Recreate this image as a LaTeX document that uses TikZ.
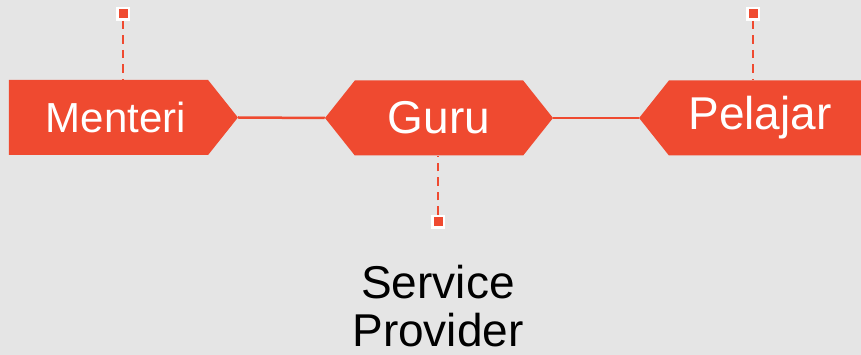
\documentclass[tikz,border=0pt]{standalone}
\usepackage{fontspec}
\setmainfont{Liberation Sans}
\usetikzlibrary{shapes.symbols}
\definecolor{flagred}{RGB}{239,74,48}
\definecolor{paper}{RGB}{229,229,229}
\begin{document}
\begin{tikzpicture}[
  x=1pt, y=1pt,
  flag/.style={shape=signal, fill=flagred, text=white, inner sep=0pt, minimum height=75pt, signal pointer angle=103, font=\fontsize{46}{48}\selectfont},
  pin/.style={draw=white, fill=flagred, line width=2.5pt, minimum size=11.5pt, inner sep=0pt},
  stem/.style={draw=flagred, line width=2.5pt, dash pattern=on 8.5pt off 6pt},
  link/.style={draw=flagred, line width=2.5pt}
]
\fill[paper] (0,0) rectangle (861,-355);
\useasboundingbox (0,0) rectangle (861,-355);

\node[flag, signal to=east, minimum width=229pt, font=\fontsize{42}{44}\selectfont] (menteri) at (108.5,-117.5) {\hspace*{15pt}Menteri};
\node[flag, signal to=west and east, minimum width=228pt] (guru) at (439,-118) {Guru};
\node[flag, signal to=west, minimum width=240pt] (pelajar) at (774,-118) {Pelajar\hspace*{28pt}};

\node[pin] (pinm) at (123,-14) {};
\node[pin] (ping) at (438,-222) {};
\node[pin] (pinp) at (753,-14) {};

\draw[link] (menteri.east) -- (guru.west);
\draw[link] (guru.east) -- (pelajar.west);
\draw[stem] (pinm) -- (menteri.north -| pinm);
\draw[stem] (ping) -- (guru.south -| ping);
\draw[stem] (pinp) -- (pelajar.north -| pinp);

\node[align=center, inner sep=0pt, font=\fontsize{46}{48}\selectfont] (service) at (438,-306) {Service\\Provider};
\end{tikzpicture}
\end{document}
